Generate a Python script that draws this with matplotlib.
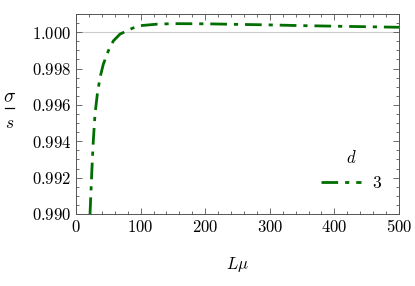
import numpy as np
import matplotlib.pyplot as plt
from matplotlib.lines import Line2D
from matplotlib.ticker import MultipleLocator, FuncFormatter

plt.rcParams['mathtext.fontset'] = 'cm'
plt.rcParams['font.family'] = 'serif'
plt.rcParams['font.serif'] = ['DejaVu Serif']

# curve
L_mu = [21.7, 24.3, 26.8, 29.4, 33, 37.2, 42.3, 50, 57.8, 68, 83.6, 96.5,
        125, 150, 200, 250, 300, 350, 400, 450, 500]
ratio = [0.99000, 0.99220, 0.99403, 0.99549, 0.99659, 0.99751, 0.99824,
         0.99897, 0.99952, 0.99989, 1.00016, 1.00035, 1.00044, 1.00047,
         1.00046, 1.00043, 1.00040, 1.00036, 1.00033, 1.00030, 1.00027]
d_label = r'$3$'

fig = plt.figure(figsize=(4.15, 2.86), dpi=100)
ax = fig.add_axes([76/415, 1 - 214/286, 323/415, 200/286])

ax.axhline(1.0, color='#cccccc', lw=0.8, zorder=0)
ax.plot(L_mu, ratio, color='#006e00', lw=2, dashes=(6, 2.5, 1.5, 2.5), label=d_label)

ax.set_xlim(0, 500)
ax.set_ylim(0.990, 1.001)
ax.xaxis.set_major_locator(MultipleLocator(100))
ax.xaxis.set_minor_locator(MultipleLocator(20))
ax.yaxis.set_major_locator(MultipleLocator(0.002))
ax.yaxis.set_minor_locator(MultipleLocator(0.0005))
ax.xaxis.set_major_formatter(FuncFormatter(lambda v, p: r'$%d$' % v))
ax.yaxis.set_major_formatter(FuncFormatter(lambda v, p: r'$%.3f$' % v))
ax.tick_params(which='both', direction='in', top=True, right=True, labelsize=12,
               color='#555555', width=0.6)
ax.tick_params(which='major', length=4)
ax.tick_params(which='minor', length=2)
for s in ax.spines.values():
    s.set_color('#555555')
    s.set_linewidth(0.7)

leg = ax.legend(title=r'$d$', loc='lower right', bbox_to_anchor=(0.995, 0.03),
                frameon=False, fontsize=12.5, handlelength=2.3, handletextpad=0.6)
leg.get_title().set_fontsize(12)

fig.text(237/415, 1 - 265/286, r'$L\mu$', ha='center', va='center', fontsize=12)
# y label drawn as a stacked fraction
fig.text(10/415, 1 - 97/286, r'$\sigma$', ha='center', va='center', fontsize=14)
fig.text(10/415, 1 - 124/286, r'$s$', ha='center', va='center', fontsize=12.5)
fig.add_artist(Line2D([5/415, 14/415], [1 - 108/286, 1 - 108/286], color='black', lw=0.9))

fig.savefig('out.png', dpi=100)
